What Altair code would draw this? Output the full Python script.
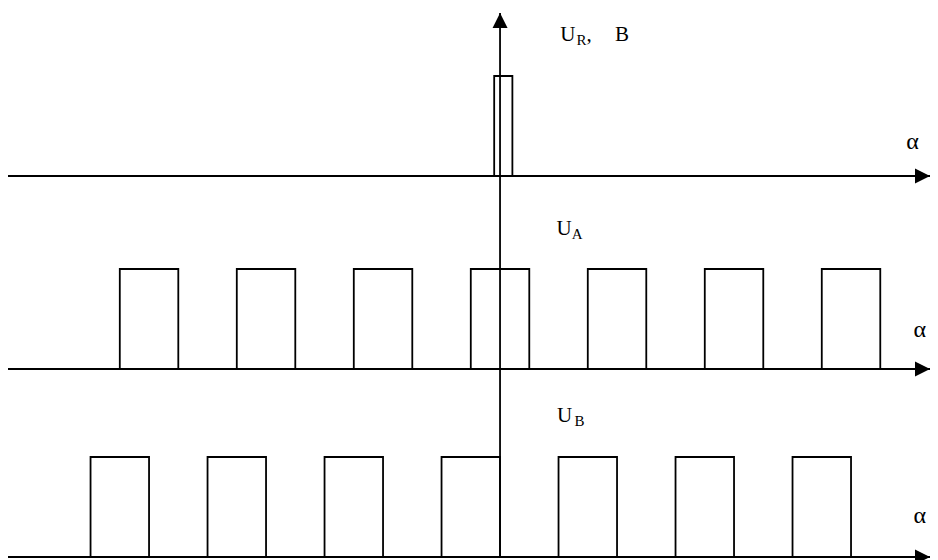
import altair as alt
import pandas as pd

# ---- data (x in electrical degrees α, y in pulse-amplitude units) ----
track_names = ["U_R", "U_A", "U_B"]
track_baselines = [3.81, 1.88, 0.0]          # vertical offset of each time axis
pulse_amplitude = 1.0

ua_starts = [-1170, -810, -450, -90, 270, 630, 990]
ub_starts = [-1260, -900, -540, -180, 180, 540, 900]
pulse_width = 180
ur_start = [-18]
ur_end = [38]

x_min, x_max = -1514, 1323
y_min, y_max = -0.03, 5.49
axis_tip_x = 1323          # arrow tip of horizontal axes
axis_tip_y = 5.44          # arrow tip of vertical axis

# label texts
label_text = ["U", "R", ",", "B", "U", "A", "U", "B", "α", "α", "α"]
label_x = [185, 235, 266, 354, 174, 221, 175, 229, 1250, 1272, 1272]
label_y = [5.16, 5.12, 5.16, 5.16, 3.22, 3.18, 1.35, 1.31, 4.08, 2.20, 0.34]
label_size = [21, 15, 21, 21, 21, 15, 21, 15, 24, 24, 24]

# ---- tables ----
pulses = pd.DataFrame(
    [{"x": s, "x2": s + pulse_width, "y": track_baselines[1], "y2": track_baselines[1] + pulse_amplitude} for s in ua_starts]
    + [{"x": s, "x2": s + pulse_width, "y": track_baselines[2], "y2": track_baselines[2] + pulse_amplitude} for s in ub_starts]
    + [{"x": a, "x2": b, "y": track_baselines[0], "y2": track_baselines[0] + pulse_amplitude} for a, b in zip(ur_start, ur_end)]
)
haxes = pd.DataFrame({"name": track_names, "x": [x_min] * 3, "x2": [axis_tip_x] * 3, "y": track_baselines})
vaxis = pd.DataFrame({"x": [0], "y": [0.0], "y2": [axis_tip_y]})
harrows = pd.DataFrame({"x": [axis_tip_x] * 3, "y": track_baselines})
varrow = pd.DataFrame({"x": [0], "y": [axis_tip_y]})
labels = pd.DataFrame({"t": label_text, "x": label_x, "y": label_y, "fs": label_size})

xs = alt.Scale(domain=[x_min, x_max], nice=False, zero=False)
ys = alt.Scale(domain=[y_min, y_max], nice=False, zero=False)

LW = 1.8

rects = alt.Chart(pulses).mark_rect(fillOpacity=0, stroke="black", strokeWidth=LW).encode(
    x=alt.X("x:Q", scale=xs, axis=None), x2="x2:Q",
    y=alt.Y("y:Q", scale=ys, axis=None), y2="y2:Q",
)
hrules = alt.Chart(haxes).mark_rule(color="black", strokeWidth=LW).encode(
    x=alt.X("x:Q", scale=xs, axis=None), x2="x2:Q",
    y=alt.Y("y:Q", scale=ys, axis=None),
)
vrule = alt.Chart(vaxis).mark_rule(color="black", strokeWidth=LW).encode(
    x=alt.X("x:Q", scale=xs, axis=None),
    y=alt.Y("y:Q", scale=ys, axis=None), y2="y2:Q",
)
harr = alt.Chart(harrows).mark_point(
    shape="M 0 0 L -2 -1 L -2 1 Z", filled=True, size=225, color="black", opacity=1
).encode(x=alt.X("x:Q", scale=xs, axis=None), y=alt.Y("y:Q", scale=ys, axis=None))
varr = alt.Chart(varrow).mark_point(
    shape="M 0 0 L -1 2 L 1 2 Z", filled=True, size=225, color="black", opacity=1
).encode(x=alt.X("x:Q", scale=xs, axis=None), y=alt.Y("y:Q", scale=ys, axis=None))
texts = alt.Chart(labels).mark_text(
    align="left", baseline="alphabetic", font="Liberation Serif", color="black"
).encode(
    x=alt.X("x:Q", scale=xs, axis=None),
    y=alt.Y("y:Q", scale=ys, axis=None),
    text="t:N",
    size=alt.Size("fs:Q", scale=None),
)

chart = alt.layer(hrules, vrule, rects, harr, varr, texts).properties(
    width=922, height=552, padding=0, autosize=alt.AutoSizeParams(type="none"),
    background="white",
).configure_view(stroke=None)

chart.save("out.html", embed_options={"renderer": "svg", "actions": False})
